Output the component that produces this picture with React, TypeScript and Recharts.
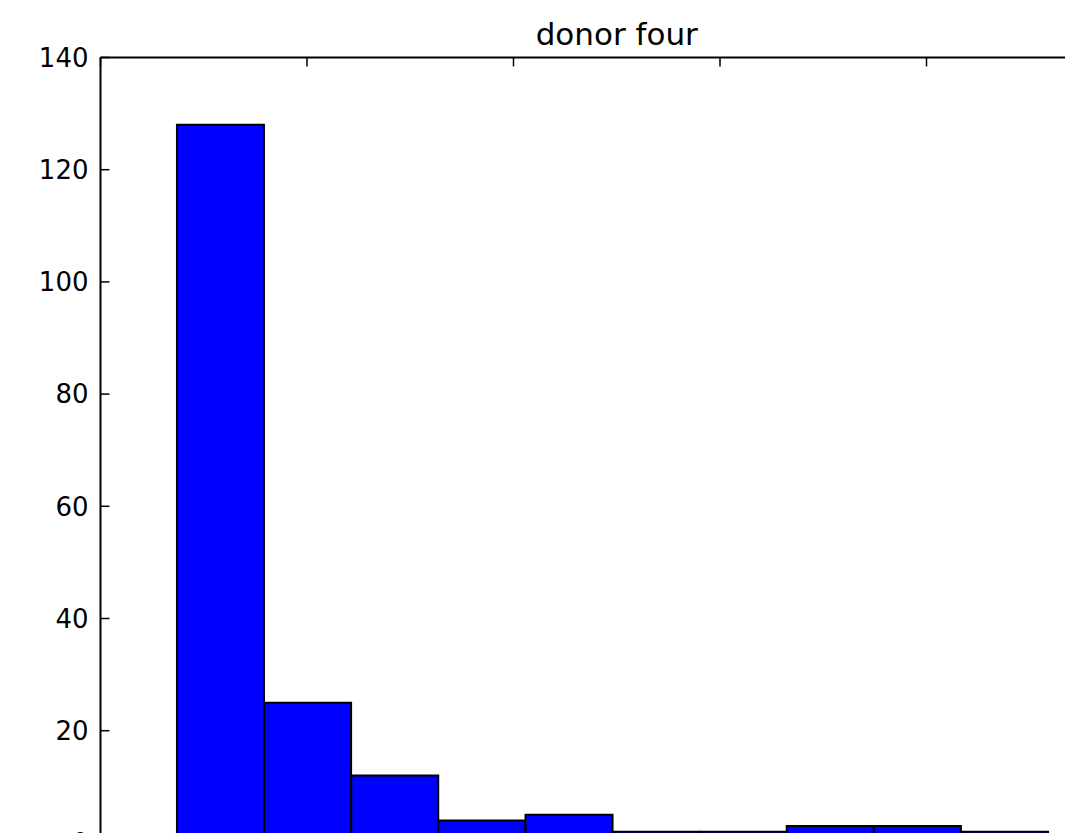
import React from 'react';
import { BarChart, Bar, XAxis, YAxis } from 'recharts';

// histogram counts per bin
const counts = [128, 25, 12, 4, 5, 2, 2, 3, 3, 2];
// bin edges in x units (axis runs 0..5)
const binEdges = [0.37, 0.792, 1.214, 1.636, 2.058, 2.48, 2.901, 3.323, 3.745, 4.167, 4.589];
const xTicks = [0, 1, 2, 3, 4, 5];
const yTicks = [0, 20, 40, 60, 80, 100, 120, 140];
const title = 'donor four';

const data = counts.map((count, i) => ({
  center: (binEdges[i] + binEdges[i + 1]) / 2,
  count,
}));

const FONT = '"DejaVu Sans", sans-serif';
const TICK_LEN = 9;
const Y_PAD = 12;

// matplotlib-style inward ticks
const YTick = (props: any) => {
  const { x, y, payload } = props;
  const axisX = x + Y_PAD;
  return (
    <g>
      <line x1={axisX} x2={axisX + TICK_LEN} y1={y} y2={y} stroke="#000" strokeWidth={1.5} />
      <text x={x} y={y} dy="0.355em" textAnchor="end" fill="#000" fontSize={26} fontFamily={FONT}>
        {payload.value}
      </text>
    </g>
  );
};

const TopTick = (props: any) => {
  const { x, y } = props;
  return <line x1={x} x2={x} y1={y} y2={y + TICK_LEN} stroke="#000" strokeWidth={1.5} />;
};

const BottomTick = (props: any) => {
  const { x, y } = props;
  return <line x1={x} x2={x} y1={y} y2={y - TICK_LEN} stroke="#000" strokeWidth={1.5} />;
};

const App: React.FC = () => {
  return (
    <div style={{ position: 'absolute', left: 0, top: 0, width: 1200, height: 900, background: '#fff', fontFamily: FONT }}>
      <div
        style={{
          position: 'absolute',
          left: 100.5,
          width: 1032.5,
          top: 16,
          textAlign: 'center',
          fontSize: 31,
          color: '#000',
        }}
      >
        {title}
      </div>
      <BarChart
        width={1200}
        height={900}
        data={data}
        margin={{ top: 47.5, right: 67, bottom: 0, left: 0.5 }}
        barCategoryGap={0}
        barGap={0}
      >
        <XAxis
          xAxisId="top"
          dataKey="center"
          orientation="top"
          type="number"
          domain={[0, 5]}
          allowDataOverflow
          ticks={xTicks}
          height={10}
          tickSize={0}
          tickMargin={0}
          tickLine={false}
          tick={<TopTick />}
          axisLine={{ stroke: '#000', strokeWidth: 2 }}
        />
        <XAxis
          dataKey="center"
          type="number"
          domain={[0, 5]}
          allowDataOverflow
          ticks={xTicks}
          height={57.1}
          tickSize={0}
          tickMargin={0}
          tickLine={false}
          tick={<BottomTick />}
          axisLine={{ stroke: '#000', strokeWidth: 2 }}
        />
        <YAxis
          type="number"
          domain={[0, 140]}
          ticks={yTicks}
          width={100}
          tickSize={0}
          tickMargin={Y_PAD}
          tickLine={false}
          tick={<YTick />}
          axisLine={{ stroke: '#000', strokeWidth: 2 }}
        />
        <Bar
          dataKey="count"
          fill="#0000ff"
          stroke="#000"
          strokeWidth={2}
          isAnimationActive={false}
        />
      </BarChart>
    </div>
  );
};

export default App;
